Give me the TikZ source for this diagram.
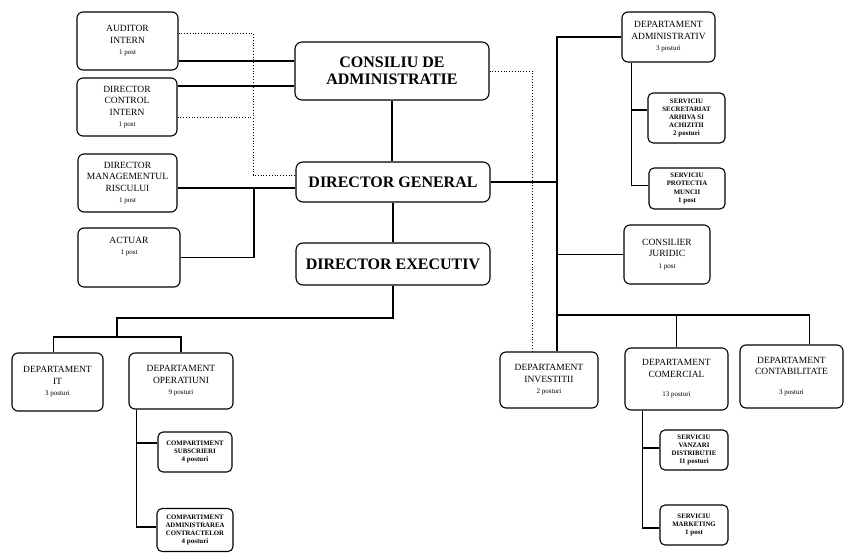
\documentclass[tikz,border=0pt]{standalone}
\usepackage{fontspec}
\setmainfont{Liberation Serif}
\newcommand{\posturi}[1]{{\fontsize{7}{8}\selectfont #1}}

\begin{document}
\begin{tikzpicture}[x=1pt, y=-1pt, line width=1.1pt,
    bigbox/.style={draw, rounded corners=7pt, align=center, inner sep=1pt,
      font=\fontsize{16}{17}\selectfont\bfseries, minimum width=194pt},
    unitbox/.style={draw, rounded corners=6pt, align=center, inner sep=1pt,
      font=\fontsize{9.5}{11.5}\selectfont, minimum height=58pt},
    smallbox/.style={draw, rounded corners=5pt, align=center, inner sep=1pt,
      font=\fontsize{6.8}{8.2}\selectfont\bfseries, minimum height=40pt},
    dotline/.style={line width=0.9pt, dash pattern=on 1pt off 1.8pt}]
    \useasboundingbox (0,0) rectangle (844,553);

    % Conducere
    \node[bigbox, minimum height=58pt] (consiliu) at (392,71) {CONSILIU DE\\ADMINISTRATIE};
    \node[bigbox, minimum height=40pt] (dg) at (393,182) {DIRECTOR GENERAL};
    \node[bigbox, minimum height=42pt] (de) at (393,264) {DIRECTOR EXECUTIV};

    % Control si risc
    \node[unitbox, minimum width=101pt] (auditor) at (127.5,41) {AUDITOR\\INTERN\\\posturi{1 post}};
    \node[unitbox, minimum width=100pt] (control) at (127,107) {DIRECTOR\\CONTROL\\INTERN\\\posturi{1 post}};
    \node[unitbox, minimum width=99pt] (risc) at (127.5,183) {DIRECTOR\\MANAGEMENTUL\\RISCULUI\\\posturi{1 post}};
    \node[unitbox, minimum width=102pt, minimum height=59pt] (actuar) at (129,257.5) {ACTUAR\\\posturi{1 post}\\[12pt]};

    % Administrativ si juridic
    \node[unitbox, minimum width=93pt, minimum height=50pt] (admin) at (668.5,37) {DEPARTAMENT\\ADMINISTRATIV\\\posturi{3 posturi}};
    \node[smallbox, minimum width=77pt, minimum height=50pt] (secretariat) at (686.5,118) {SERVICIU\\SECRETARIAT\\ARHIVA SI\\ACHIZITII\\\posturi{2 posturi}};
    \node[smallbox, minimum width=76pt, minimum height=41pt] (protectia) at (687,188.5) {SERVICIU\\PROTECTIA\\MUNCII\\\posturi{1 post}};
    \node[unitbox, minimum width=86pt, minimum height=59pt] (juridic) at (667,254.5) {CONSILIER\\JURIDIC\\\posturi{1 post}};

    % Departamente executiv
    \node[unitbox, minimum width=91pt] (it) at (57.5,382) {DEPARTAMENT\\IT\\\posturi{3 posturi}};
    \node[unitbox, minimum width=104pt, minimum height=56pt] (operatiuni) at (181,381) {DEPARTAMENT\\OPERATIUNI\\\posturi{9 posturi}};
    \node[smallbox, minimum width=74pt] (subscrieri) at (195,452) {COMPARTIMENT\\SUBSCRIERI\\\posturi{4 posturi}};
    \node[smallbox, minimum width=76pt, minimum height=43pt] (contracte) at (195,530) {COMPARTIMENT\\ADMINISTRAREA\\CONTRACTELOR\\\posturi{4 posturi}};

    % Departamente director general
    \node[unitbox, minimum width=98pt, minimum height=56pt] (investitii) at (549,380) {DEPARTAMENT\\INVESTITII\\\posturi{2 posturi}};
    \node[unitbox, minimum width=103pt, minimum height=62pt] (comercial) at (676.5,379) {DEPARTAMENT\\COMERCIAL\\[8pt]\posturi{13 posturi}};
    \node[unitbox, minimum width=103pt, minimum height=63pt] (contabilitate) at (791.5,376.5) {DEPARTAMENT\\CONTABILITATE\\[8pt]\posturi{3 posturi}};
    \node[smallbox, minimum width=68pt] (vanzari) at (694,450) {SERVICIU\\VANZARI\\DISTRIBUTIE\\\posturi{11 posturi}};
    \node[smallbox, minimum width=68pt] (marketing) at (694,525) {SERVICIU\\MARKETING\\\posturi{1 post}};

    % Legaturi stanga
    \draw ([yshift=-20pt]auditor.east) -- ([yshift=-20pt]auditor.east -| consiliu.west);
    \draw ([yshift=21pt]control.east) -- ([yshift=21pt]control.east -| consiliu.west);
    \coordinate (dotbus) at (253,175);
    \draw[dotline] ([yshift=8pt]auditor.east) -| (dotbus) -- (dotbus -| dg.west);
    \draw[dotline] ([yshift=-10pt]control.east) -- ([yshift=-10pt]control.east -| dotbus);
    \draw ([yshift=-5pt]risc.east) -- ([yshift=-5pt]risc.east -| dg.west);
    \coordinate (actuarbus) at (254,188);
    \draw (actuar.east) -| (actuarbus);

    % Linia ierarhica
    \draw (consiliu.south) -- (consiliu.south |- dg.north);
    \draw (dg.south) -- (dg.south |- de.north);
    \coordinate (opbus) at (117,337);
    \draw (de.south) |- (opbus |- 0,318) -- (opbus);
    \draw ([xshift=-4pt]it.north) |- (opbus) -| (operatiuni.north);
    \draw ([xshift=8pt]operatiuni.south west) |- ([yshift=9pt]subscrieri.west);
    \draw ([xshift=8pt]operatiuni.south west) |- ([yshift=3pt]contracte.west);

    % Legaturi dreapta
    \coordinate (rtop) at (557,37);
    \coordinate (rbot) at (557,315);
    \draw (admin.west) -- (rtop) -- (rbot);
    \draw (dg.east) -- (dg.east -| rtop);
    \draw (juridic.west) -- (juridic.west -| rtop);
    \draw (rbot) -- (rbot |- investitii.north);
    \draw (rbot) -| ([xshift=18pt]contabilitate.north);
    \draw (rbot -| comercial.north) -- (comercial.north);
    \draw[dotline] (consiliu.east) -| ([xshift=-17pt]investitii.north);
    \draw ([xshift=10pt]admin.south west) |- ([yshift=8pt]secretariat.west);
    \draw ([xshift=10pt]admin.south west) |- ([yshift=3pt]protectia.west);
    \draw ([xshift=18pt]comercial.south west) |- ([yshift=2pt]vanzari.west);
    \draw ([xshift=18pt]comercial.south west) |- ([yshift=-3pt]marketing.west);
\end{tikzpicture}
\end{document}
